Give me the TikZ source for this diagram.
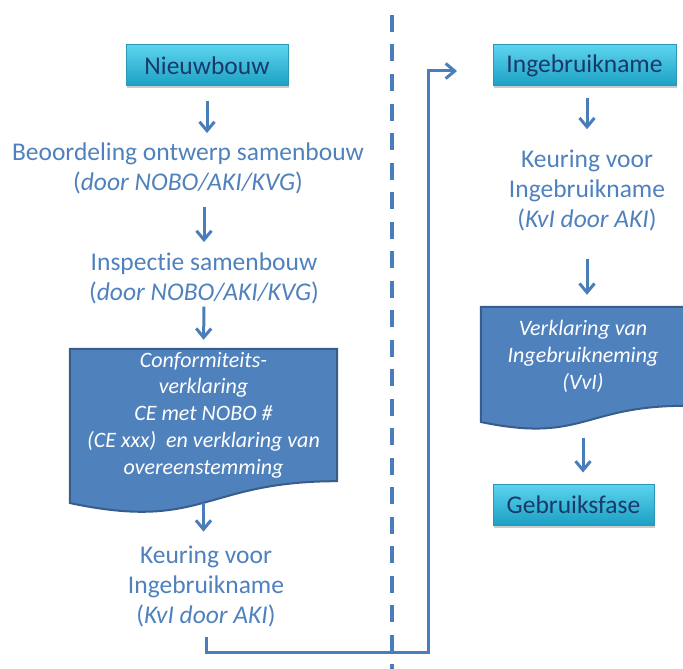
\documentclass[tikz,border=0pt]{standalone}
\usepackage{fontspec}
\setmainfont[Ligatures=NoCommon]{Carlito}
\usetikzlibrary{arrows.meta,calc,shadows,backgrounds}
\definecolor{tekstblauw}{RGB}{79,129,189}
\definecolor{pijlblauw}{RGB}{74,126,187}
\definecolor{docrand}{RGB}{56,93,138}
\definecolor{kaderboven}{RGB}{92,212,238}
\definecolor{kaderonder}{RGB}{28,160,196}
\definecolor{kaderrand}{RGB}{45,150,182}
\definecolor{kadertekst}{RGB}{25,58,105}
\begin{document}
\begin{tikzpicture}[x=1pt,y=-1pt]
	\tikzstyle{pijl}=[-{Straight Barb[length=9pt,width=15pt]},line width=3pt,pijlblauw]
	\tikzstyle{kader}=[draw=kaderrand,line width=1pt,top color=kaderboven,bottom color=kaderonder,drop shadow={opacity=0.4,shadow xshift=1pt,shadow yshift=-2.5pt},minimum height=41pt,inner sep=0pt,text=kadertekst,font=\fontsize{25.5}{30}\selectfont]
	\tikzstyle{tekst}=[align=center,inner sep=0pt,text=tekstblauw,font=\fontsize{25.5}{30}\selectfont]
	\tikzstyle{document}=[draw=docrand,line width=2pt,fill=tekstblauw]
	\tikzstyle{doctekst}=[align=center,inner sep=0pt,text=white,font=\itshape\fontsize{22}{26.7}\selectfont]
	\tikzstyle{scheiding}=[line width=3.5pt,pijlblauw,dash pattern=on 17pt off 12.5pt]
	\useasboundingbox (0,0) rectangle (683,669);
	% linker kolom
	\node[kader,minimum width=162pt] (nieuw) at (207,65.5) {Nieuwbouw};
	\node[tekst,anchor=base] (beoord) at (188,190) {Beoordeling ontwerp samenbouw\\(\textit{door NOBO/AKI/KVG})};
	\node[tekst,anchor=base] (inspect) at (204,300) {Inspectie samenbouw\\(\textit{door NOBO/AKI/KVG})};
	\node[doctekst,minimum width=267pt,minimum height=132pt] (conform) at (203.5,415) {Conformiteits-\\verklaring\\CE met NOBO \#\\(CE xxx)\ \ en verklaring van\\overeenstemming};
	\node[tekst,anchor=base] (keurL) at (206,623) {Keuring voor\\Ingebruikname\\(\textit{KvI door AKI})};
	% rechter kolom
	\node[kader,minimum width=183pt] (ingeb) at (584.5,65.5) {Ingebruikname};
	\node[tekst,anchor=base] (keurR) at (587,227) {Keuring voor\\Ingebruikname\\(\textit{KvI door AKI})};
	\node[doctekst,minimum width=204pt,minimum height=98.6pt] (verkl) at (583,356.3) {Verklaring van\\Ingebruikneming\\(VvI)};
	\node[kader,minimum width=161pt] (gebruik) at (573.5,504.5) {Gebruiksfase};
	% documentvormen
	\begin{scope}[on background layer]
		\draw[document] (conform.north west) -- (conform.north east) -- (conform.south east) .. controls (conform.south) and ($(conform.south)+(0,50.4)$) .. ($(conform.south west)+(0,21.8)$) -- cycle;
		\draw[document] (verkl.north west) -- (verkl.north east) -- (verkl.south east) .. controls (verkl.south) and ($(verkl.south)+(0,37.5)$) .. ($(verkl.south west)+(0,16.2)$) -- cycle;
	\end{scope}
	% scheidingslijn
	\coordinate (scheidingboven) at (392,15);
	\coordinate (scheidingonder) at (392,669);
	\draw[scheiding] (scheidingboven) -- (scheidingonder);
	% pijlen
	\draw[pijl,shorten <=14pt,shorten >=9pt] (nieuw.south) -- (nieuw.south |- beoord.north);
	\draw[pijl,shorten <=13pt,shorten >=10pt] (inspect.north |- beoord.south) -- (inspect.north);
	\draw[pijl,shorten <=3pt,shorten >=9pt] (inspect.south) -- (conform.north);
	\draw[pijl,shorten <=22pt,shorten >=13.6pt] (conform.south) -- (conform.south |- keurL.north);
	\draw[pijl,shorten <=11pt,shorten >=20pt] (keurR.north |- ingeb.south) -- (keurR.north);
	\draw[pijl,shorten <=28pt,shorten >=12pt] (keurR.south) -- (keurR.south |- verkl.north);
	\draw[pijl,shorten <=32pt,shorten >=11pt] (verkl.south) -- (verkl.south |- gebruik.north);
	% verbinding naar ingebruikname
	\coordinate (hoekonder) at (428,652);
	\coordinate (pijlpunt) at (457,71);
	\draw[pijl,shorten <=10pt] (keurL.south) |- (hoekonder) |- (pijlpunt);
\end{tikzpicture}
\end{document}
